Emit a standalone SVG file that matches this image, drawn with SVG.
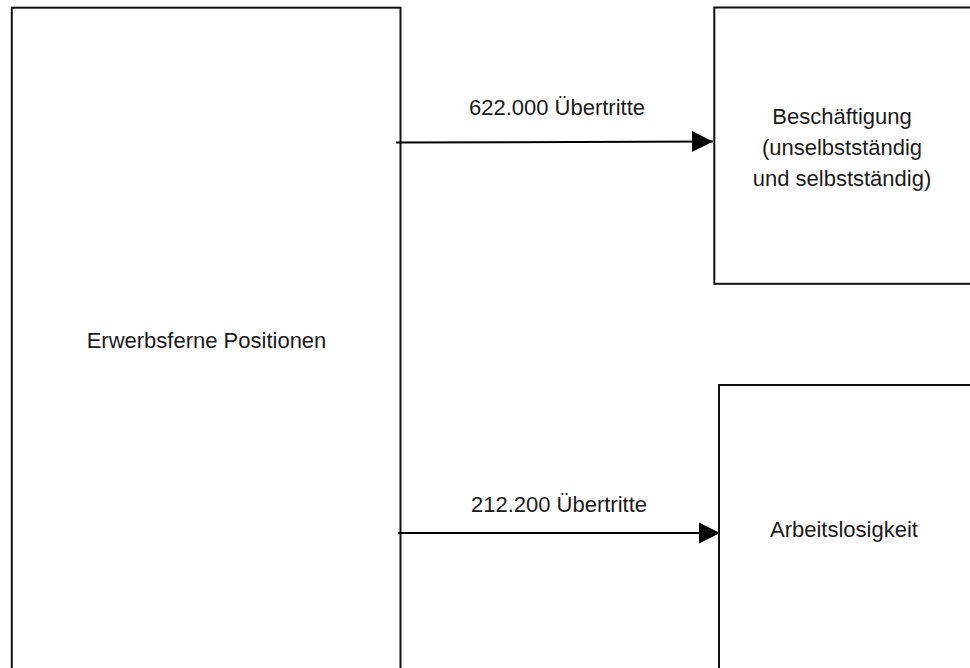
<svg xmlns="http://www.w3.org/2000/svg" width="970" height="668" viewBox="0 0 970 668">
  <style>
    .box { fill: #ffffff; stroke: #111111; stroke-width: 2; }
    .lbl { font-family: "Liberation Sans", Arial, sans-serif; font-size: 22px; fill: #1a1a1a; text-anchor: middle; }
    .conn { stroke: #000000; stroke-width: 2; fill: none; marker-end: url(#arrow); }
  </style>
  <defs>
    <marker id="arrow" markerUnits="userSpaceOnUse" markerWidth="22" markerHeight="22" refX="21" refY="11" orient="auto">
      <path d="M0,0.5 L21,11 L0,21.5 Z" fill="#000000"/>
    </marker>
  </defs>
  <rect width="970" height="668" fill="#ffffff"/>

  <g id="node-erwerbsferne">
    <rect class="box" x="11.8" y="7.7" width="388.7" height="680"/>
    <text class="lbl" x="206.5" y="348">Erwerbsferne Positionen</text>
  </g>

  <g id="node-beschaeftigung">
    <rect class="box" x="714.3" y="7.5" width="270" height="276.3"/>
    <text class="lbl" x="842" y="124">Beschäftigung</text>
    <text class="lbl" x="842" y="155">(unselbstständig</text>
    <text class="lbl" x="842" y="186">und selbstständig)</text>
  </g>

  <g id="node-arbeitslosigkeit">
    <rect class="box" x="719" y="385" width="270" height="300"/>
    <text class="lbl" x="844" y="536.5">Arbeitslosigkeit</text>
  </g>

  <g id="connectors">
    <line class="conn" x1="396" y1="142.5" x2="713" y2="141.5"/>
    <text class="lbl" x="557" y="115">622.000 Übertritte</text>
    <line class="conn" x1="398" y1="533" x2="720" y2="533"/>
    <text class="lbl" x="559" y="512">212.200 Übertritte</text>
  </g>
</svg>
